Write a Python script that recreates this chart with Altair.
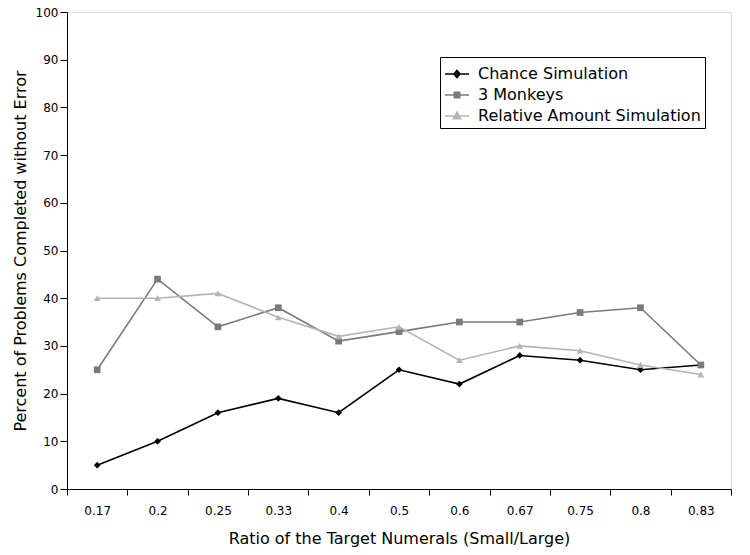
import altair as alt
import pandas as pd

ratios = ["0.17", "0.2", "0.25", "0.33", "0.4", "0.5", "0.6", "0.67", "0.75", "0.8", "0.83"]
chance = [5, 10, 16, 19, 16, 25, 22, 28, 27, 25, 26]
monkeys = [25, 44, 34, 38, 31, 33, 35, 35, 37, 38, 26]
relative = [40, 40, 41, 36, 32, 34, 27, 30, 29, 26, 24]

series_names = ["Chance Simulation", "3 Monkeys", "Relative Amount Simulation"]
series_values = [chance, monkeys, relative]
colors = ["#000000", "#7a7a7a", "#b4b4b4"]
shapes = ["diamond", "square", "triangle-up"]
legend_paths = [
    "M-1,0H1M0,-0.3L0.26,0L0,0.3L-0.26,0Z",
    "M-1,0H1M-0.22,-0.22H0.22V0.22H-0.22Z",
    "M-1,0H1M0,-0.32L0.3,0.22L-0.3,0.22Z",
]

rows = []
for name, vals in zip(series_names, series_values):
    for r, v in zip(ratios, vals):
        rows.append({"series": name, "ratio": r, "value": v})
df = pd.DataFrame(rows)

font = "DejaVu Sans"

x_enc = alt.X(
    "ratio:N",
    sort=ratios,
    scale=alt.Scale(type="band", domain=ratios, paddingInner=0, paddingOuter=0),
    axis=alt.Axis(
        tickBand="extent",
        labelAngle=0,
        title="Ratio of the Target Numerals (Small/Large)",
        grid=False,
        domainColor="#000000",
        tickColor="#000000",
        tickSize=6,
        labelPadding=10,
        labelFontSize=12,
        labelFont=font,
        labelColor="#000000",
        titleFont=font,
        titleFontSize=16,
        titleFontWeight="normal",
        titleColor="#000000",
        titlePadding=14,
    ),
)
y_enc = alt.Y(
    "value:Q",
    scale=alt.Scale(domain=[0, 100], nice=False),
    axis=alt.Axis(
        values=list(range(0, 101, 10)),
        title="Percent of Problems Completed without Error",
        grid=False,
        domainColor="#000000",
        tickColor="#000000",
        tickSize=7,
        labelPadding=2,
        labelFontSize=12,
        labelFont=font,
        labelColor="#000000",
        titleFont=font,
        titleFontSize=16,
        titleFontWeight="normal",
        titleColor="#000000",
        titlePadding=7,
    ),
)

color_scale = alt.Scale(domain=series_names, range=colors)

lines = alt.Chart(df).mark_line(strokeWidth=1.6).encode(
    x=x_enc,
    y=y_enc,
    color=alt.Color("series:N", scale=color_scale, legend=None),
    detail="series:N",
)

points = alt.Chart(df).mark_point(filled=True, size=45, opacity=1).encode(
    x=x_enc,
    y=y_enc,
    color=alt.Color("series:N", scale=color_scale, legend=None),
    shape=alt.Shape("series:N", scale=alt.Scale(domain=series_names, range=shapes), legend=None),
)

leg = alt.Legend(
    title=None,
    orient="none",
    legendX=373,
    legendY=45,
    strokeColor="#000000",
    fillColor="#ffffff",
    padding=4,
    labelFont=font,
    labelFontSize=16,
    labelColor="#000000",
    symbolSize=576,
    symbolStrokeWidth=1.6,
    labelOffset=8,
    rowPadding=-1,
    labelLimit=400,
)

legend_layer = alt.Chart(df).transform_filter("datum.value < 0").mark_point(size=576, strokeWidth=1.6, opacity=1).encode(
    x=x_enc,
    y=y_enc,
    fill=alt.Fill("series:N", scale=alt.Scale(domain=series_names, range=colors), legend=leg),
    stroke=alt.Stroke("series:N", scale=alt.Scale(domain=series_names, range=colors), legend=leg),
    shape=alt.Shape("series:N", scale=alt.Scale(domain=series_names, range=legend_paths), legend=leg),
)

chart = alt.layer(lines, points, legend_layer).resolve_scale(
    color="independent", shape="independent", fill="independent", stroke="independent"
).properties(
    width=664,
    height=477,
    padding={"left": 59, "top": 4, "right": 10, "bottom": 60},
    autosize=alt.AutoSizeParams(type="none"),
).configure_view(
    stroke="#9a9a9a", strokeWidth=1
).configure(background="#ffffff")

chart.save("out.html", embed_options={"renderer": "svg", "actions": False})
